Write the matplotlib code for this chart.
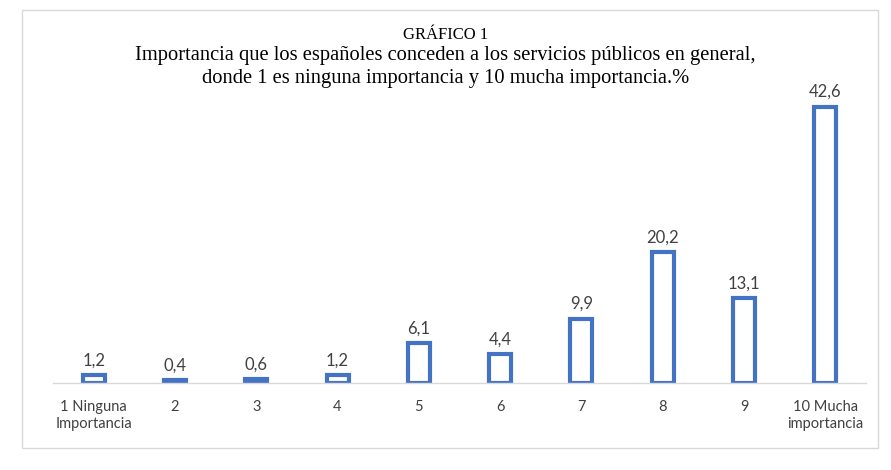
import matplotlib.pyplot as plt
from matplotlib.patches import Rectangle

categories = ['1 Ninguna\nImportancia', '2', '3', '4', '5', '6', '7', '8', '9', '10 Mucha\nimportancia']
values = [1.2, 0.4, 0.6, 1.2, 6.1, 4.4, 9.9, 20.2, 13.1, 42.6]
value_labels = ['1,2', '0,4', '0,6', '1,2', '6,1', '4,4', '9,9', '20,2', '13,1', '42,6']

title_top = 'GRÁFICO 1'
title_main = ('Importancia que los españoles conceden a los servicios públicos en general,\n'
              'donde 1 es ninguna importancia y 10 mucha importancia.%')

fig = plt.figure(figsize=(8.91, 4.70), dpi=100)
fig.patch.set_facecolor('white')

# outer chart border
fig.add_artist(Rectangle((22 / 891, 22 / 470), 856 / 891, 438 / 470, transform=fig.transFigure,
                         fill=False, edgecolor='#d9d9d9', linewidth=1))

ax = fig.add_axes([53 / 891, (470 - 383) / 470, 813 / 891, 324 / 470])
x = range(len(values))
ax.bar(x, values, width=0.27, facecolor='white', edgecolor='#4472C4', linewidth=3)

for i, (v, lab) in enumerate(zip(values, value_labels)):
    ax.annotate(lab, (i, v), xytext=(0, 5), textcoords='offset points',
                ha='center', va='bottom', fontsize=12, color='#404040', family='Lato')

ax.set_xlim(-0.5, len(values) - 0.5)
ax.set_ylim(0, 50)
ax.set_xticks(list(x))
ax.set_xticklabels(categories, fontsize=10.5, color='#404040', family='Lato', linespacing=1.3)
ax.tick_params(axis='x', length=0, pad=12)
ax.set_yticks([])
for s in ['top', 'right', 'left']:
    ax.spines[s].set_visible(False)
ax.spines['bottom'].set_color('#d9d9d9')
ax.spines['bottom'].set_linewidth(1)

fig.text(0.5, 1 - 35 / 470, title_top, ha='center', va='center', fontsize=12,
         family='Liberation Serif', color='#000000')
fig.text(0.5, 1 - 67 / 470, title_main, ha='center', va='center', fontsize=14.8,
         family='Liberation Serif', color='#000000', linespacing=1.3)

fig.savefig('out.png', dpi=100)
